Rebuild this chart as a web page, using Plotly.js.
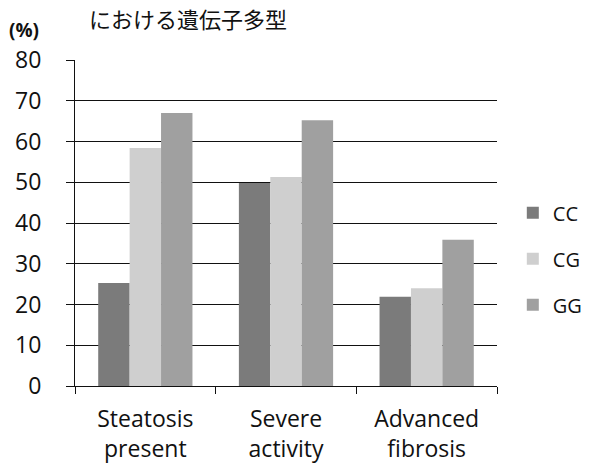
<!DOCTYPE html>
<html>
<head>
<meta charset="utf-8">
<script src="https://cdn.plot.ly/plotly-3.0.1.min.js"></script>
<style>body{margin:0;padding:0;background:#fff}</style>
</head>
<body>
<div id="chart" style="width:599px;height:475px"></div>
<script>
const categories = ["Steatosis<br>present", "Severe<br>activity", "Advanced<br>fibrosis"];
const seriesNames = ["CC", "CG", "GG"];
const ccValues = [25.3, 49.8, 21.9];
const cgValues = [58.4, 51.3, 24.0];
const ggValues = [67.0, 65.2, 35.9];
const yTicks = [0, 10, 20, 30, 40, 50, 60, 70, 80];
const colors = ["#7b7b7b", "#cfcfcf", "#a0a0a0"];
const allValues = [ccValues, cgValues, ggValues];

const font = "Open Sans, Liberation Sans, sans-serif";
const traces = allValues.map((vals, i) => ({
  type: "bar",
  name: seriesNames[i],
  x: categories,
  y: vals,
  marker: {color: colors[i], line: {width: 0}},
  legendgroup: "g" + i
}));

const layout = {
  width: 599, height: 475,
  margin: {l: 75, r: 101, t: 60, b: 89, pad: 0},
  paper_bgcolor: "#fff", plot_bgcolor: "#fff",
  bargap: 0.33, bargroupgap: 0,
  barmode: "group",
  font: {family: font, size: 23, color: "#111"},
  showlegend: true,
  legend: {x: 1.035, y: 0.39, yanchor: "middle", xanchor: "left",
           font: {family: font, size: 20, color: "#111"},
           traceorder: "grouped", tracegroupgap: 17,
           itemwidth: 30, borderwidth: 0, bgcolor: "rgba(0,0,0,0)"},
  xaxis: {
    type: "category",
    showline: true, linecolor: "#111", linewidth: 1,
    ticks: "outside", ticklen: 7, tickcolor: "#111", tickson: "boundaries",
    ticklabelstandoff: 12,
    tickfont: {family: font, size: 23, color: "#111"},
    showgrid: false, zeroline: false
  },
  yaxis: {
    range: [0, 80],
    tickvals: yTicks,
    ticktext: yTicks.map(String),
    showline: true, linecolor: "#111", linewidth: 1,
    ticks: "outside", ticklen: 8, tickcolor: "#111",
    ticklabelstandoff: 20,
    showgrid: true, gridcolor: "#111", gridwidth: 1,
    zeroline: false,
    tickfont: {family: font, size: 23, color: "#111"}
  },
  annotations: [
    {text: "<b>(%)</b>", xref: "paper", yref: "paper", x: 0, y: 1,
     xanchor: "left", yanchor: "bottom", xshift: -68, yshift: 15,
     showarrow: false, font: {family: font, size: 19, color: "#111"}},
    {text: "における遺伝子多型", xref: "paper", yref: "paper", x: 0, y: 1,
     xanchor: "left", yanchor: "bottom", xshift: 12, yshift: 24,
     showarrow: false, font: {family: "Noto Sans CJK JP", size: 22, color: "#111"}}
  ]
};

Plotly.newPlot("chart", traces, layout, {staticPlot: true, displayModeBar: false});
</script>
</body>
</html>
